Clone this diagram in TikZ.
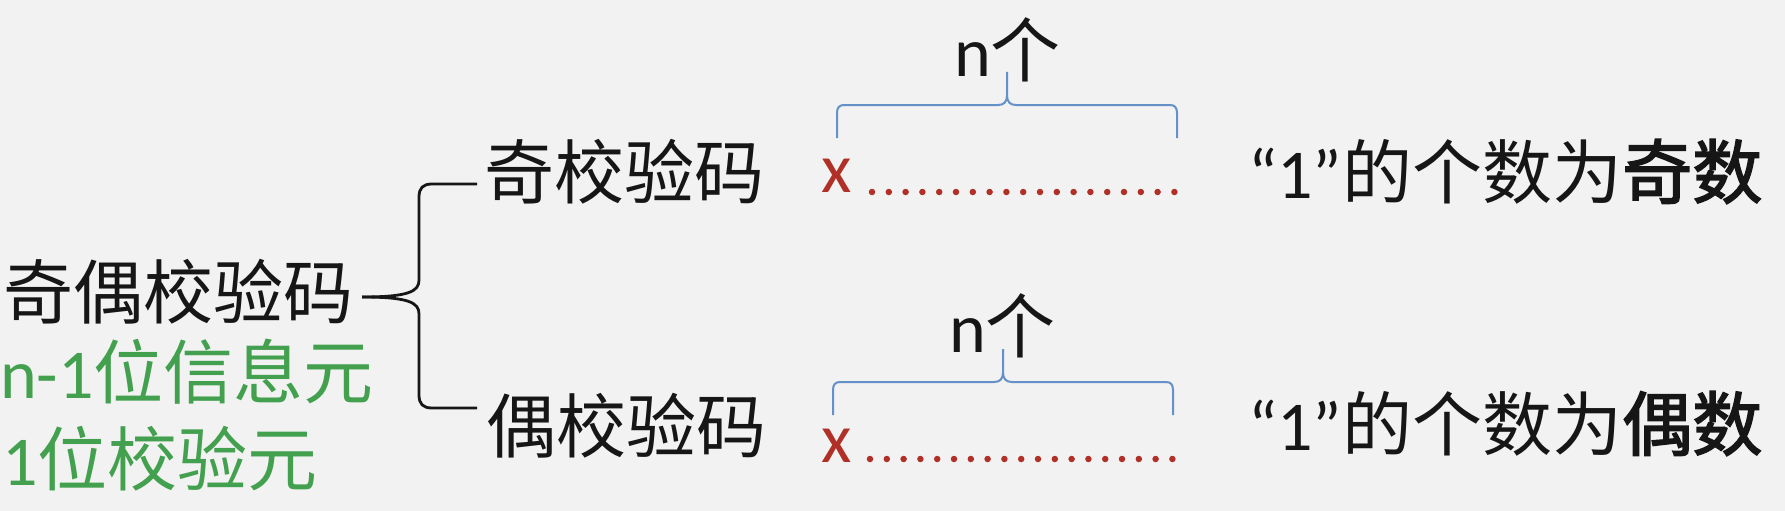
\documentclass[tikz,border=0pt]{standalone}
\usepackage{fontspec}
\setmainfont{Carlito}
\newfontfamily\cjk{Noto Sans CJK SC}
\newfontfamily\cjkb[FakeBold=2.2]{Noto Sans CJK SC}
\usetikzlibrary{calc}
\definecolor{bg}{RGB}{242,242,242}
\definecolor{ink}{RGB}{22,22,22}
\definecolor{grn}{RGB}{66,160,78}
\definecolor{rd}{RGB}{176,48,40}
\definecolor{blu}{RGB}{100,145,200}
\begin{document}
\begin{tikzpicture}[x=1pt,y=-1pt,
  txt/.style={inner sep=0pt, anchor=base west, font=\fontsize{70}{84}\selectfont, text=ink},
  blk/.style={draw=ink, line width=2.8pt},
  bbr/.style={draw=blu, line width=2pt},
  dotrow/.style={draw=rd, line width=6.5pt, line cap=round, dash pattern=on 0pt off 16.8pt}]
\useasboundingbox[fill=bg] (0,0) rectangle (1785,511);

% texts
\node[txt] (root) at (3,318) {\cjk 奇偶校验码};
\node[txt,text=grn] (info) at (0,398) {n-1{\cjk 位信息元}};
\node[txt,text=grn] (chk) at (2,485) {1{\cjk 位校验元}};
\node[txt] (odd) at (484,198) {\cjk 奇校验码};
\node[txt] (even) at (486,452) {\cjk 偶校验码};
\node[txt,text=rd] (x1) at (821,192) {x};
\node[txt,text=rd] (x2) at (821,462) {x};
\node[txt] (n1) at (954,77) {n{\cjk 个}};
\node[txt] (n2) at (949,352) {n{\cjk 个}};
\node[txt] (r1) at (1248,198) {“1”{\cjk 的个数为}{\cjkb 奇数}};
\node[txt] (r2) at (1248,450) {“1”{\cjk 的个数为}{\cjkb 偶数}};

% black brace
\coordinate (bT) at (477,184);
\coordinate (bB) at (477,408);
\coordinate (bM) at (362,297);
\draw[blk] (bT) -- (432,184) .. controls (423,184) and (419,188) .. (419,197) -- (419,280) .. controls (419,291) and (410,297) .. (bM);
\draw[blk] (bM) .. controls (410,297) and (419,303) .. (419,314) -- (419,395) .. controls (419,404) and (423,408) .. (432,408) -- (bB);

% blue braces
\foreach \dx/\dy in {0/0,-4/277}{
\begin{scope}[shift={(\dx,\dy)}]
\draw[bbr] (837,138) -- (837,113) .. controls (837,108) and (839,105) .. (844,105) -- (998,105) .. controls (1004,105) and (1007,102) .. (1007,95) -- (1007,72);
\draw[bbr] (1007,95) .. controls (1007,102) and (1010,105) .. (1016,105) -- (1170,105) .. controls (1175,105) and (1177,108) .. (1177,113) -- (1177,138);
\end{scope}}

% dotted rows
\coordinate (d1a) at (872,192);
\coordinate (d1b) at (1176,192);
\coordinate (d2a) at (870,459);
\coordinate (d2b) at (1174,459);
\draw[dotrow] (d1a) -- (d1b);
\draw[dotrow] (d2a) -- (d2b);
\end{tikzpicture}
\end{document}
